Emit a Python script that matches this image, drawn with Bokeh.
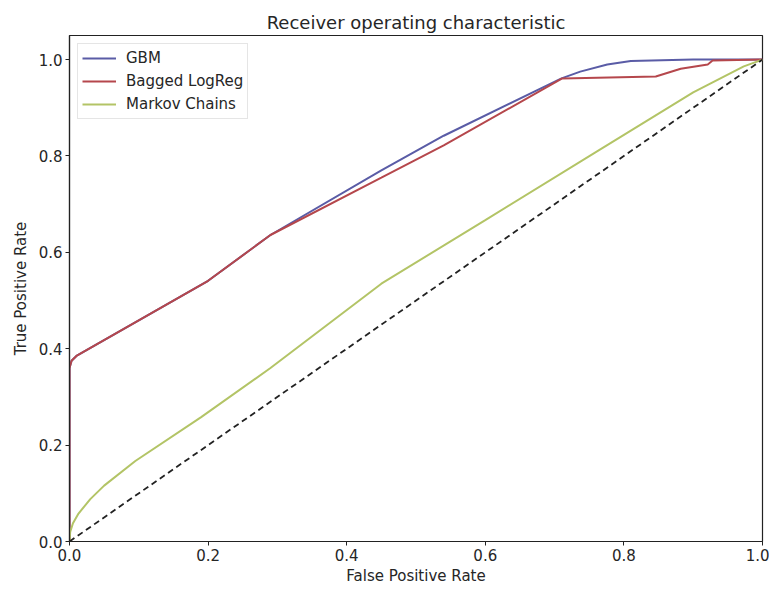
from bokeh.plotting import figure
from bokeh.models import Range1d, FixedTicker, Legend, LegendItem
from bokeh.embed import file_html
from bokeh.resources import INLINE

# Data
gbm_fpr = [0.0, 0.0, 0.003, 0.01, 0.2, 0.29, 0.45, 0.54, 0.71, 0.737, 0.776, 0.81, 0.9, 1.0]
gbm_tpr = [0.0, 0.36, 0.375, 0.385, 0.541, 0.636, 0.77, 0.842, 0.961, 0.975, 0.99, 0.997, 1.0, 1.0]

lr_fpr = [0.0, 0.0, 0.003, 0.01, 0.2, 0.29, 0.45, 0.54, 0.711, 0.846, 0.882, 0.921, 0.928, 1.0]
lr_tpr = [0.0, 0.36, 0.375, 0.385, 0.541, 0.636, 0.755, 0.822, 0.961, 0.965, 0.981, 0.99, 0.998, 1.0]

mc_fpr = [0.0, 0.001, 0.005, 0.013, 0.03, 0.05, 0.095, 0.19, 0.29, 0.45, 0.6, 0.763, 0.9, 0.973, 1.0]
mc_tpr = [0.0, 0.02, 0.038, 0.058, 0.088, 0.116, 0.167, 0.258, 0.36, 0.535, 0.667, 0.811, 0.932, 0.986, 1.0]

diag_x = [0.0, 1.0]
diag_y = [0.0, 1.0]

x_ticks = [0.0, 0.2, 0.4, 0.6, 0.8, 1.0]
y_ticks = [0.0, 0.2, 0.4, 0.6, 0.8, 1.0]

FONT = "DejaVu Sans"
TXT = "#262626"

p = figure(width=769, height=587, output_backend="svg", toolbar_location=None,
           x_range=Range1d(0, 1), y_range=Range1d(0, 1.05),
           min_border_left=69, min_border_right=7, min_border_top=35, min_border_bottom=44)

p.title.text = "Receiver operating characteristic"
p.title.align = "center"
p.title.text_font = FONT
p.title.text_font_size = "18px"
p.title.text_font_style = "normal"
p.title.text_color = TXT
p.title.standoff = 6

p.grid.visible = False
p.outline_line_color = "#222222"
p.outline_line_width = 1.2
p.background_fill_color = "white"
p.border_fill_color = "white"

for ax in (p.xaxis[0], p.yaxis[0]):
    ax.major_tick_in = 0
    ax.major_tick_out = 4
    ax.minor_tick_line_color = None
    ax.axis_line_color = "#222222"
    ax.axis_line_width = 1.2
    ax.major_tick_line_color = "#222222"
    ax.major_label_text_font = FONT
    ax.major_label_text_font_size = "15px"
    ax.major_label_text_color = TXT
    ax.major_label_standoff = 3
    ax.axis_label_text_font = FONT
    ax.axis_label_text_font_size = "15px"
    ax.axis_label_text_font_style = "normal"
    ax.axis_label_text_color = TXT

p.xaxis.ticker = FixedTicker(ticks=x_ticks)
p.yaxis.ticker = FixedTicker(ticks=y_ticks)
p.xaxis.major_label_overrides = {t: f"{t:.1f}" for t in x_ticks}
p.yaxis.major_label_overrides = {t: f"{t:.1f}" for t in y_ticks}
p.xaxis.axis_label = "False Positive Rate"
p.yaxis.axis_label = "True Positive Rate"
p.xaxis.axis_label_standoff = 3
p.yaxis.axis_label_standoff = 6

r_gbm = p.line(gbm_fpr, gbm_tpr, line_color="#5a5ca6", line_width=2)
r_lr = p.line(lr_fpr, lr_tpr, line_color="#b5474c", line_width=2)
r_mc = p.line(mc_fpr, mc_tpr, line_color="#b3c466", line_width=2)
p.line(diag_x, diag_y, line_color="#222222", line_width=1.8, line_dash="6 4")

legend = Legend(items=[LegendItem(label="GBM", renderers=[r_gbm]),
                       LegendItem(label="Bagged LogReg", renderers=[r_lr]),
                       LegendItem(label="Markov Chains", renderers=[r_mc])],
                location="top_left")
legend.margin = 8
legend.padding = 4
legend.spacing = 3
legend.glyph_width = 34
legend.label_standoff = 10
legend.label_text_font = FONT
legend.label_text_font_size = "15px"
legend.label_text_color = TXT
legend.border_line_color = "#cccccc"
legend.border_line_width = 1
legend.background_fill_alpha = 0.8
p.add_layout(legend)

open("out.html", "w").write(file_html(p, INLINE))
